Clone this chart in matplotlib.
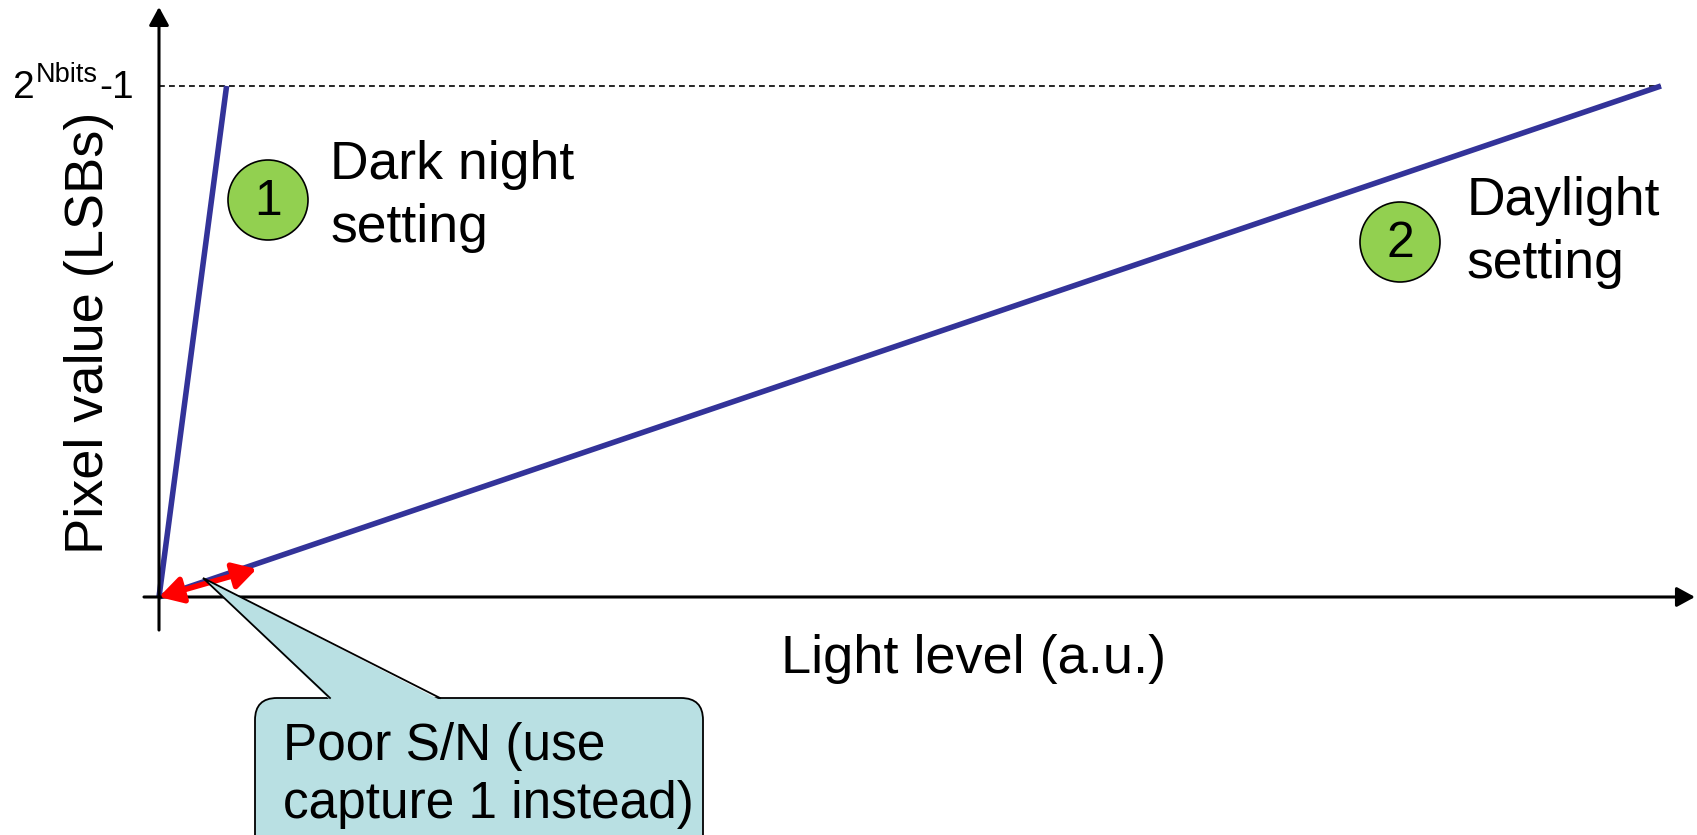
import matplotlib
matplotlib.use('Agg')
import matplotlib.pyplot as plt
from matplotlib.patches import FancyBboxPatch, Polygon, Circle

plt.rcParams['font.family'] = ['Liberation Sans', 'DejaVu Sans']

# ---- data (arbitrary light units, pixel value in LSBs, Nbits = 8) ----
max_value = 255
night_light = [0, 4.5]        # dark night setting saturates early
night_value = [0, 255]
day_light = [0, 100]          # daylight setting saturates late
day_value = [0, 255]
poor_sn_light = [0, 6.5]      # region with poor S/N
poor_sn_value = [0, 14.0]
x_axis_range = [-1.0, 102.26]
y_axis_range = [-16.5, 294.4]

W, H = 1697, 835
fig = plt.figure(figsize=(W / 100, H / 100), dpi=100)
ax = fig.add_axes([0, 0, 1, 1])
ax.set_xlim(-10.586, 102.397)
ax.set_ylim(-118.77, 297.9)
ax.axis('off')

# axes arrows
arr_ax = dict(arrowstyle='-|>,head_length=0.55,head_width=0.3', mutation_scale=20,
              lw=2.2, color='black', shrinkA=0, shrinkB=0)
ax.annotate('', xy=(x_axis_range[1], 0), xytext=(x_axis_range[0], 0), arrowprops=arr_ax)
ax.annotate('', xy=(0, y_axis_range[1]), xytext=(0, y_axis_range[0]), arrowprops=arr_ax)

# saturation level dashed line
ax.plot([0, day_light[1]], [max_value, max_value], color='black', lw=1.2,
        linestyle=(0, (3.5, 2.5)))

# response lines
blue = '#333399'
ax.plot(night_light, night_value, color=blue, lw=4.0, solid_capstyle='butt')
ax.plot(day_light, day_value, color=blue, lw=4.0, solid_capstyle='butt')

# poor S/N double arrow
ax.annotate('', xy=(poor_sn_light[1], poor_sn_value[1]),
            xytext=(poor_sn_light[0], poor_sn_value[0]),
            arrowprops=dict(arrowstyle='<|-|>,head_length=0.7,head_width=0.4',
                            mutation_scale=20, lw=4.0, color='#FF0000',
                            shrinkA=0, shrinkB=0), zorder=5)

# ---- overlay in pixel coordinates for annotations ----
pax = fig.add_axes([0, 0, 1, 1])
pax.set_xlim(0, W)
pax.set_ylim(H, 0)
pax.axis('off')
pax.patch.set_visible(False)

# y max label 2^Nbits-1
pax.text(13, 98, '2', fontsize=28, va='baseline', ha='left')
pax.text(36, 82, 'Nbits', fontsize=19.5, va='baseline', ha='left')
pax.text(99, 98, '-1', fontsize=28, va='baseline', ha='left')

# axis titles
pax.text(974, 673, 'Light level (a.u.)', fontsize=39, ha='center', va='baseline')
pax.text(103, 333, 'Pixel value (LSBs)', fontsize=39, ha='center', va='baseline',
         rotation=90, rotation_mode='anchor')

# circled numbers and labels
green = '#92D050'
for (cx, cy, num) in [(268, 200, '1'), (1400, 242, '2')]:
    pax.add_patch(Circle((cx, cy), 40, facecolor=green, edgecolor='black', lw=1.2))
    pax.text(cx, cy + 2, num, fontsize=36, ha='center', va='center')

pax.text(330, 179, 'Dark night', fontsize=38.5, va='baseline', ha='left')
pax.text(330, 242, 'setting', fontsize=38.5, va='baseline', ha='left')
pax.text(1467, 215, 'Daylight', fontsize=38.5, va='baseline', ha='left')
pax.text(1467, 278, 'setting', fontsize=38.5, va='baseline', ha='left')

# callout
callout = '#B9E0E3'
pax.add_patch(FancyBboxPatch((255, 698), 448, 170, boxstyle='round,pad=0,rounding_size=22',
                             facecolor=callout, edgecolor='black', lw=1.3, zorder=3))
pax.add_patch(Polygon([(203, 578), (330, 700), (440, 700)], closed=True,
                      facecolor=callout, edgecolor='none', zorder=4))
pax.plot([330, 203, 440], [698, 578, 698], color='black', lw=1.3, zorder=5,
         solid_joinstyle='miter')
pax.text(283, 760, 'Poor S/N (use', fontsize=37, va='baseline', ha='left', zorder=6)
pax.text(283, 818, 'capture 1 instead)', fontsize=37, va='baseline', ha='left', zorder=6)

fig.savefig('out.png', dpi=100)
